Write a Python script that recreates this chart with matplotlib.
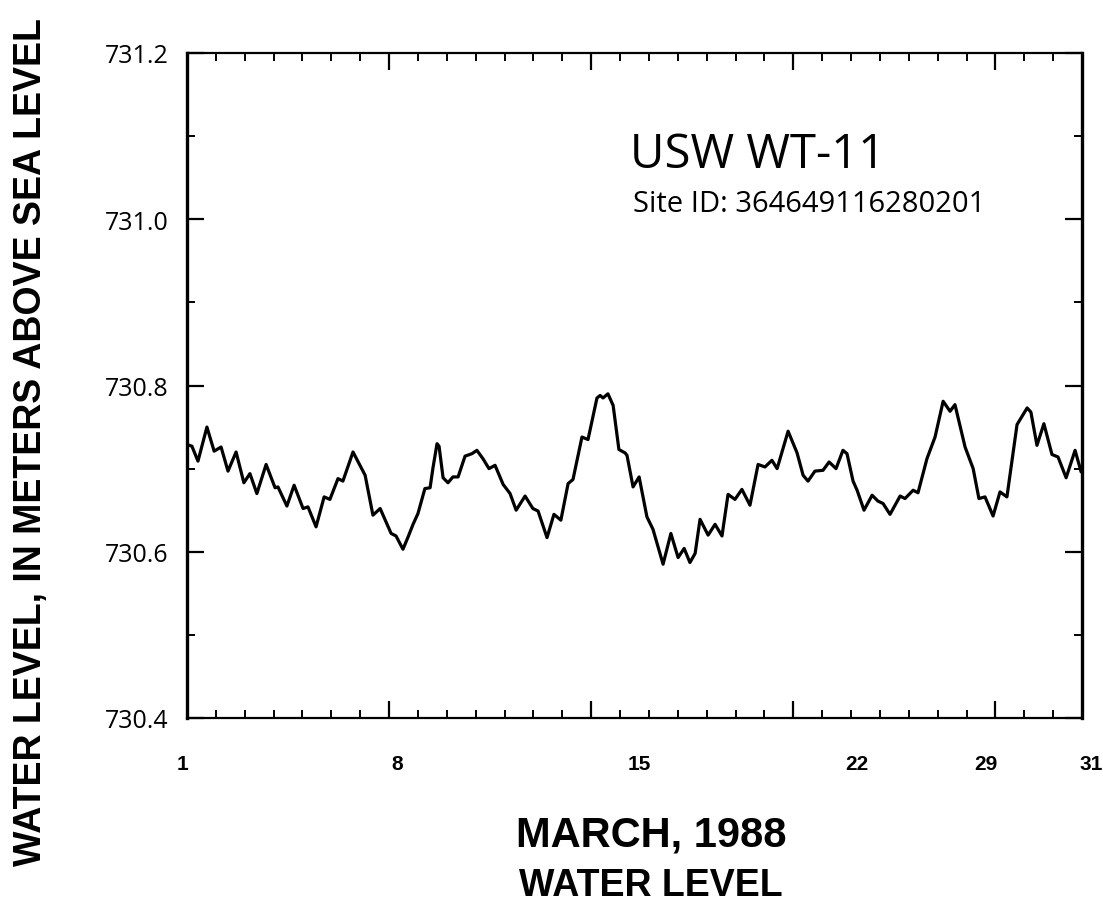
import matplotlib
matplotlib.use("Agg")
import matplotlib.pyplot as plt
from matplotlib.ticker import MultipleLocator, FixedLocator, NullFormatter
import matplotlib.transforms as mtransforms

# Water level record, USW WT-11, March 1988 (day of month, metres above sea level)
days = [
    1.00, 1.17, 1.38, 1.69, 1.94, 2.18, 2.42, 2.70, 2.97, 3.18, 3.42, 3.74, 4.05, 4.15,
    4.46, 4.71, 5.02, 5.19, 5.47, 5.75, 5.95, 6.23, 6.40, 6.75, 7.17, 7.44, 7.69, 8.07,
    8.24, 8.48, 8.66, 8.83, 9.00, 9.24, 9.42, 9.52, 9.66, 9.73, 9.87, 10.04, 10.21, 10.39,
    10.63, 10.87, 11.04, 11.25, 11.46, 11.67, 11.95, 12.19, 12.40, 12.71, 12.98, 13.16,
    13.47, 13.71, 13.95, 14.20, 14.37, 14.68, 14.89, 15.20, 15.31, 15.41, 15.58, 15.76,
    15.96, 16.17, 16.24, 16.45, 16.66, 16.93, 17.14, 17.49, 17.76, 18.01, 18.22, 18.42,
    18.60, 18.77, 19.05, 19.29, 19.53, 19.74, 19.98, 20.22, 20.50, 20.78, 21.02, 21.26,
    21.44, 21.82, 22.13, 22.34, 22.51, 22.75, 23.03, 23.24, 23.48, 23.72, 23.86, 24.07,
    24.21, 24.45, 24.73, 24.93, 25.11, 25.35, 25.70, 25.87, 26.15, 26.32, 26.63, 26.91,
    27.19, 27.43, 27.60, 27.95, 28.23, 28.43, 28.64, 28.92, 29.16, 29.40, 29.75, 30.10,
    30.23, 30.44, 30.68, 30.96, 31.17, 31.45, 31.76, 31.97,
]
levels = [
    730.729, 730.727, 730.709, 730.750, 730.721, 730.726, 730.697, 730.720, 730.683, 730.694,
    730.670, 730.705, 730.677, 730.678, 730.655, 730.680, 730.652, 730.654, 730.630, 730.666,
    730.663, 730.688, 730.685, 730.720, 730.692, 730.644, 730.652, 730.622, 730.619, 730.603,
    730.618, 730.633, 730.646, 730.676, 730.677, 730.701, 730.730, 730.727, 730.689, 730.683,
    730.690, 730.690, 730.715, 730.718, 730.722, 730.712, 730.700, 730.704, 730.681, 730.670,
    730.650, 730.667, 730.652, 730.649, 730.617, 730.645, 730.638, 730.682, 730.687, 730.738,
    730.735, 730.785, 730.788, 730.785, 730.790, 730.776, 730.723, 730.719, 730.716, 730.678,
    730.690, 730.642, 730.627, 730.585, 730.622, 730.593, 730.604, 730.587, 730.598, 730.639,
    730.620, 730.633, 730.619, 730.669, 730.663, 730.675, 730.656, 730.705, 730.702, 730.710,
    730.700, 730.745, 730.719, 730.692, 730.685, 730.697, 730.698, 730.708, 730.700, 730.722,
    730.718, 730.685, 730.674, 730.650, 730.668, 730.661, 730.658, 730.645, 730.667, 730.664,
    730.674, 730.671, 730.712, 730.738, 730.781, 730.769, 730.777, 730.726, 730.700, 730.664,
    730.666, 730.643, 730.672, 730.666, 730.753, 730.773, 730.768, 730.728, 730.754, 730.717,
    730.714, 730.689, 730.722, 730.696,
]

# Axis labelling
y_ticks = [730.4, 730.6, 730.8, 731.0, 731.2]
y_tick_labels = ["730.4", "730.6", "730.8", "731.0", "731.2"]
day_labels = ["1", "8", "15", "22", "29", "31"]
day_label_pos = [0.83, 8.27, 16.66, 24.21, 28.68, 32.31]
major_days = [8, 15, 22, 29]

W, H = 1103, 912
fig = plt.figure(figsize=(W / 100, H / 100), dpi=100)
ax = fig.add_axes([187 / W, 1 - 719 / H, (1082 - 187) / W, (719 - 54) / H])

ax.plot(days, levels, color="black", lw=2.3, solid_joinstyle="round",
        solid_capstyle="round")

ax.set_xlim(1, 32)
ax.set_ylim(730.4, 731.2)

# y axis: labelled every 0.2 m, minor every 0.1 m, ticks on both sides
ax.yaxis.set_major_locator(FixedLocator(y_ticks))
ax.yaxis.set_minor_locator(MultipleLocator(0.1))
ax.set_yticklabels(y_tick_labels, fontfamily="Open Sans", fontsize=18)
ax.tick_params(axis="y", which="major", direction="in", length=12, width=1.6,
               left=True, right=True, pad=13)
ax.tick_params(axis="y", which="minor", direction="in", length=6, width=1.4,
               left=True, right=True)

# x axis: one tick per day, longer ticks each week
ax.xaxis.set_major_locator(FixedLocator(major_days))
ax.xaxis.set_minor_locator(MultipleLocator(1))
ax.xaxis.set_major_formatter(NullFormatter())
ax.tick_params(axis="x", which="major", direction="in", length=12, width=1.6,
               bottom=True, top=True)
ax.tick_params(axis="x", which="minor", direction="in", length=6, width=1.4,
               bottom=True, top=True)

trans = mtransforms.blended_transform_factory(ax.transData, ax.transAxes)
for lab, pos in zip(day_labels, day_label_pos):
    ax.text(pos, -0.068, lab, transform=trans, ha="center", va="center",
            fontfamily="Liberation Sans", fontweight="bold", fontsize=15,
            clip_on=False)

for side, lw in (("left", 2.4), ("right", 2.4), ("top", 1.6), ("bottom", 1.6)):
    ax.spines[side].set_linewidth(lw)

# Well name and site ID
fig.text(630 / W, 1 - 168 / H, "USW WT-11", fontfamily="Open Sans",
         fontsize=34, ha="left", va="baseline")
fig.text(633 / W, 1 - 212 / H, "Site ID: 364649116280201", fontfamily="Open Sans",
         fontsize=21, ha="left", va="baseline")

# Axis titles
fig.text(31 / W, 1 - 442 / H, "WATER LEVEL, IN METERS ABOVE SEA LEVEL",
         rotation=90, ha="center", va="center", fontfamily="Liberation Sans",
         fontweight="bold", fontsize=27)
fig.text(651 / W, 1 - 836 / H, "MARCH, 1988", ha="center", va="center",
         fontfamily="Liberation Sans", fontweight="bold", fontsize=30)
fig.text(651 / W, 1 - 886 / H, "WATER LEVEL", ha="center", va="center",
         fontfamily="Liberation Sans", fontweight="bold", fontsize=27)

fig.savefig("out.png", dpi=100)
